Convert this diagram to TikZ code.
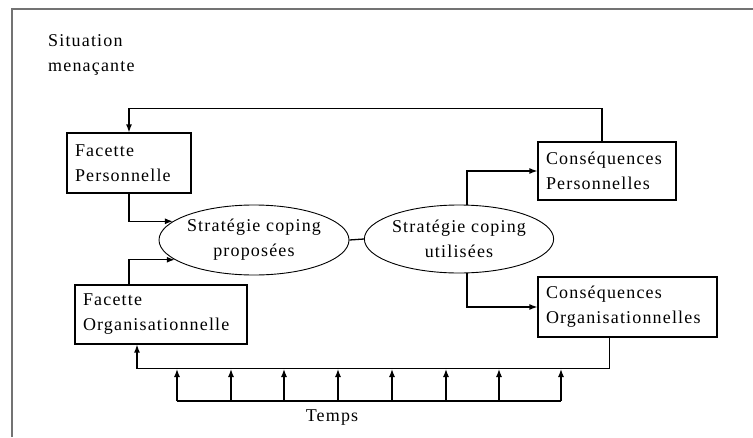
\documentclass[tikz,border=0pt]{standalone}
\usepackage{fontspec}
\setmainfont{Liberation Serif}[LetterSpace=6.5]
\usetikzlibrary{arrows.meta,shapes.geometric}
\begin{document}
\begin{tikzpicture}[x=1pt,y=-1pt,
  lab/.style={font=\fontsize{18}{25}\selectfont},
  box/.style={draw, line width=1.2pt, lab, align=left, inner xsep=8pt, inner ysep=0pt},
  ell/.style={draw, ellipse, line width=0.9pt, lab, align=center, inner sep=0pt},
  arr/.style={line width=1.3pt, -{Latex[length=8pt,width=6pt]}},
  con/.style={line width=1.3pt},
  frame/.style={draw=black!55, line width=1.6pt}]
\useasboundingbox (0,0) rectangle (753,437);
\fill[white] (0,0) rectangle (753,437);
\draw[frame] (12,437) -- (12,9) -- (753,9);

\node[lab, align=left, anchor=north west, inner sep=0pt] (sit) at (48,34) {Situation\\menaçante};

\node[box, text width=108pt, minimum height=60pt] (fp) at (129,163) {Facette\\Personnelle};
\node[box, text width=156pt, minimum height=59pt] (fo) at (161,314.5) {Facette\\Organisationnelle};
\node[box, text width=122pt, minimum height=58pt] (cp) at (607,171) {Conséquences\\Personnelles};
\node[box, text width=163pt, minimum height=60pt] (co) at (627.5,307) {Conséquences\\Organisationnelles};

\node[ell, minimum width=190pt, minimum height=70pt] (e1) at (254,240) {Stratégie coping\\proposées};
\node[ell, minimum width=188pt, minimum height=68pt] (e2) at (459,239) {Stratégie coping\\utilisées};

\node[lab, inner sep=0pt] (temps) at (332,418) {Temps};

% connectors
\draw[arr] ([xshift=-5pt]cp.north) -- ++(0,-33) -| (fp.north);
\draw[arr] (fp.south) |- (e1.167);
\draw[arr] (fo.north -| fp.south) |- (e1.194);
\draw[con] (e1.east) -- (e2.west);
\draw[arr] ([xshift=8pt]e2.north) |- (cp.west);
\draw[arr] ([xshift=8pt]e2.south) |- (co.west);
\draw[arr] ([xshift=-18pt]co.south) -- ++(0,31) coordinate (fbr) -| ([xshift=-24pt]fo.south);

% time arrows
\coordinate (tl) at (177,401);
\coordinate (tr) at (561,401);
\draw[con] (tl) -- (tr);
\foreach \x in {177,231,284,338,392,446,499,561}
  \draw[arr] (\x,401) -- (\x,369);
\end{tikzpicture}
\end{document}
